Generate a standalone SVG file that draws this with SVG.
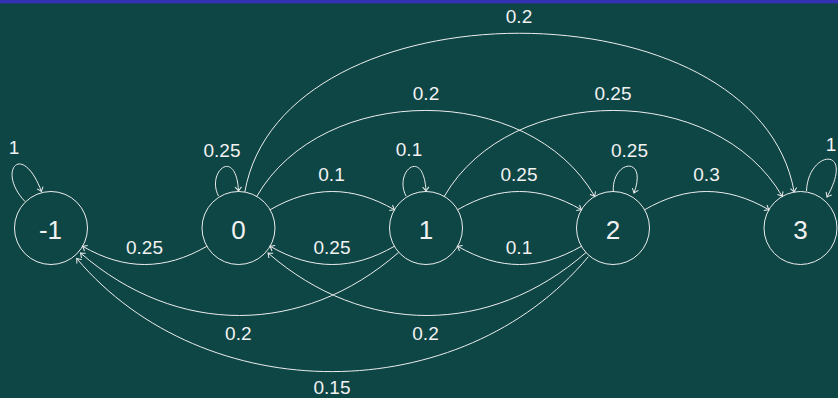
<svg xmlns="http://www.w3.org/2000/svg" width="838" height="398" viewBox="0 0 838 398">
<style>
.bg{fill:#0E4545}
.node circle{fill:none;stroke:#EDEDED;stroke-width:1}
.node text{fill:#F2F2F2;font-family:"Liberation Sans",Arial,sans-serif;font-size:26px;text-anchor:middle}
.edges path{fill:none;stroke:#EDEDED;stroke-width:1;marker-end:url(#arr)}
.lbl text{fill:#F2F2F2;font-family:"Liberation Sans",Arial,sans-serif;font-size:19px;text-anchor:middle}
</style>
<defs>
<marker id="arr" markerUnits="userSpaceOnUse" orient="auto" overflow="visible" refX="0" refY="0" markerWidth="10" markerHeight="10">
<path d="M-4,-3.2 Q-1.2,-0.8 0,0 Q-1.2,0.8 -4,3.2" fill="none" stroke="#EDEDED" stroke-width="1"/>
</marker>
</defs>
<rect class="bg" x="0" y="0" width="838" height="398"/>
<rect x="0" y="0" width="838" height="3.4" fill="#3333B3"/>
<g id="connectors" class="edges">
<path d="M25,201.5 C-4,171 22,140 41.5,191.5"/>
<path d="M218.5,196 C206,172 236,146 238.5,191"/>
<path d="M406,196 C393.5,172 423.5,146 426,191"/>
<path d="M613.3,191 C612,160 648,155 634,193"/>
<path d="M806.5,191 C808,150 856,145 827,197"/>
<path d="M270.1,209.75 C312.3,185.4 352.2,185.4 394.4,209.75"/>
<path d="M457.6,209.75 C499.8,185.4 539.2,185.4 581.4,209.75"/>
<path d="M644.6,209.75 C686.8,185.4 726.7,185.4 768.9,209.75"/>
<path d="M206.9,246.25 C164.7,270.6 124.8,270.6 82.6,246.25"/>
<path d="M394.4,246.25 C352.2,270.6 312.3,270.6 270.1,246.25"/>
<path d="M581.4,246.25 C539.2,270.6 499.8,270.6 457.6,246.25"/>
<path d="M256.75,196.4 C322.9,81.8 528.6,81.8 594.75,196.4"/>
<path d="M444.25,196.4 C510.4,81.8 716.1,81.8 782.25,196.4"/>
<path d="M244.8,192.1 C282.1,-19.7 756.9,-19.7 794.2,192.1"/>
<path d="M398.5,252.5 C302.5,336.4 176.5,336.4 80.5,253"/>
<path d="M586,252.5 C490,336.4 364,336.4 268,253"/>
<path d="M588.3,256.7 C460.9,409.6 204.1,409.6 76.7,258.5"/>
</g>
<g id="labels" class="lbl">
<text x="14" y="154">1</text>
<text x="222" y="156.5">0.25</text>
<text x="409" y="156">0.1</text>
<text x="629.5" y="156.5">0.25</text>
<text x="831" y="150.5">1</text>
<text x="331.5" y="181">0.1</text>
<text x="519" y="181">0.25</text>
<text x="706.5" y="181">0.3</text>
<text x="144.5" y="254">0.25</text>
<text x="332" y="254">0.25</text>
<text x="519" y="254">0.1</text>
<text x="426" y="100">0.2</text>
<text x="613" y="100">0.25</text>
<text x="519" y="23.3">0.2</text>
<text x="238.3" y="340">0.2</text>
<text x="425.5" y="340">0.2</text>
<text x="332" y="394">0.15</text>
</g>
<g id="node-m1" class="node"><circle cx="51" cy="228" r="36.5"/><text x="50.5" y="238.5">-1</text></g>
<g id="node-0" class="node"><circle cx="238.5" cy="228" r="36.5"/><text x="238.5" y="238.5">0</text></g>
<g id="node-1" class="node"><circle cx="426" cy="228" r="36.5"/><text x="426" y="238.5">1</text></g>
<g id="node-2" class="node"><circle cx="613" cy="228" r="36.5"/><text x="613" y="238.5">2</text></g>
<g id="node-3" class="node"><circle cx="800.5" cy="228" r="36.5"/><text x="800.5" y="238.5">3</text></g>
</svg>
